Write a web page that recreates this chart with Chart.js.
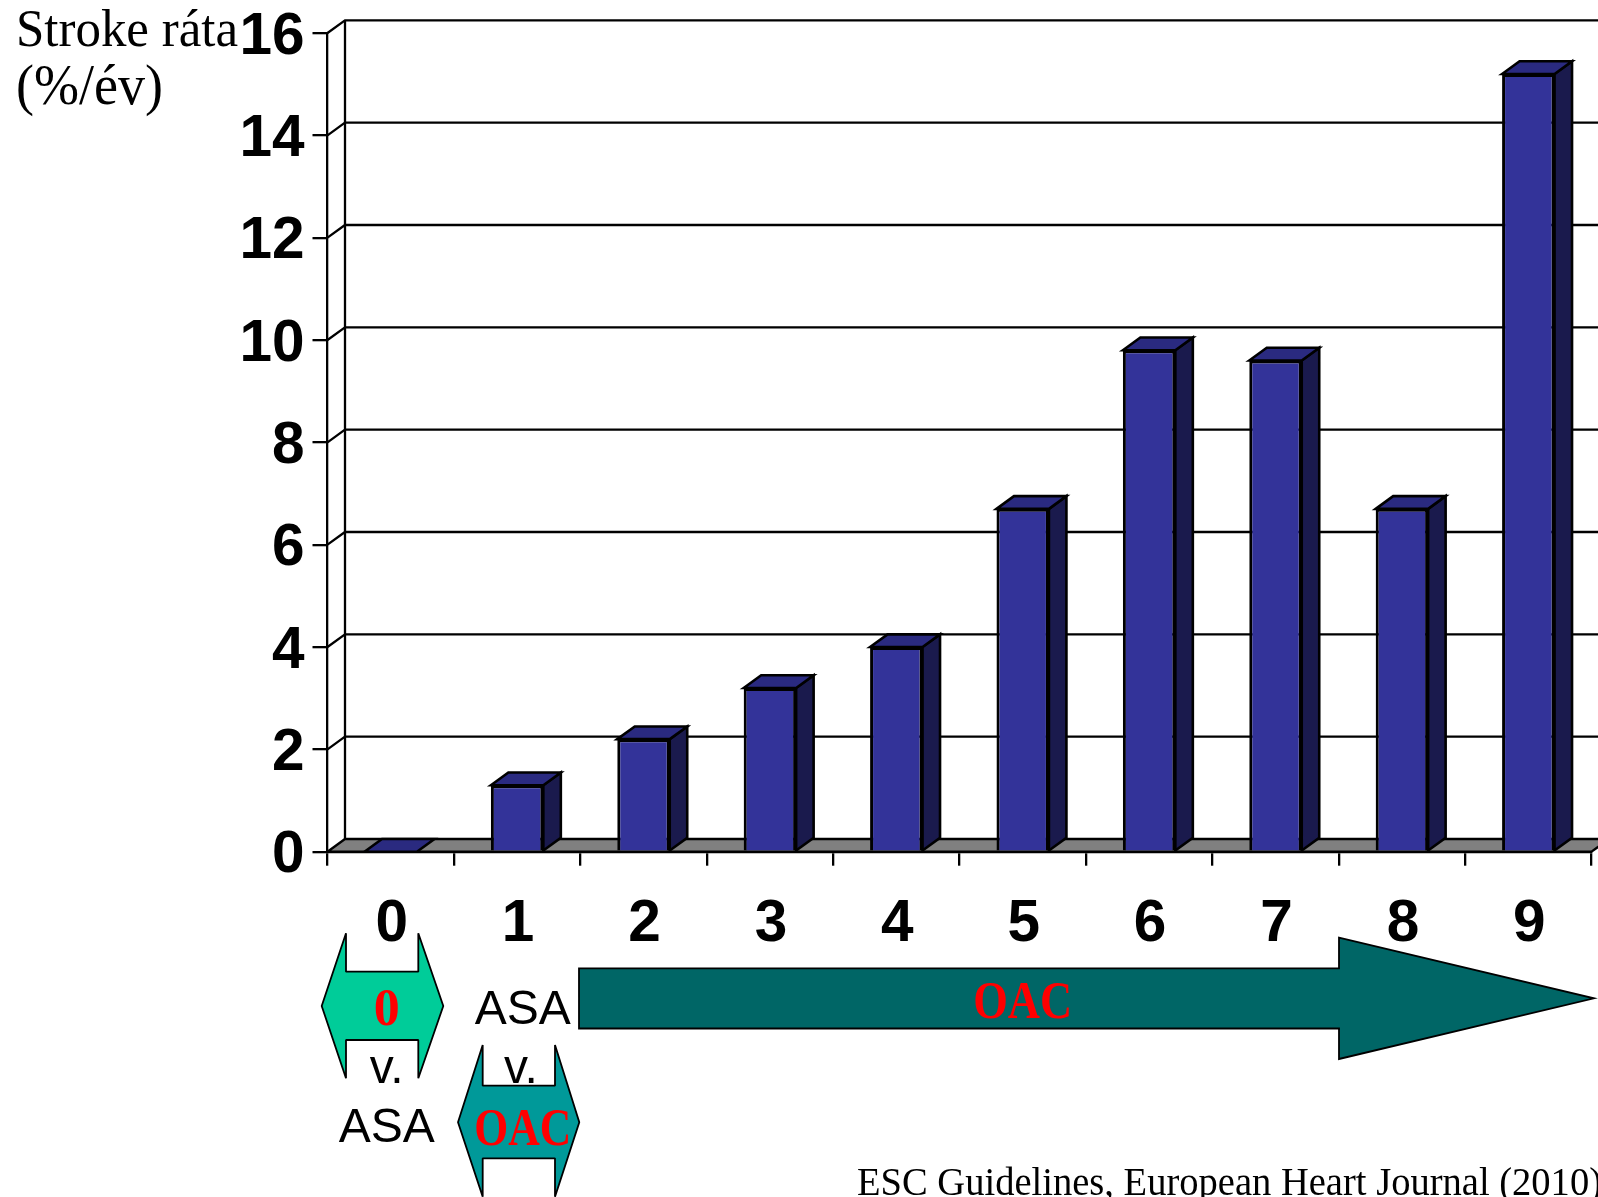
<!DOCTYPE html>
<html lang="hu">
<head>
<meta charset="utf-8">
<title>Stroke ráta</title>
<style>
  html, body { margin: 0; padding: 0; background: #fff; }
  canvas { display: block; }
</style>
<script src="https://cdn.jsdelivr.net/npm/chart.js@4"></script>
</head>
<body>
<canvas id="chart" width="1598" height="1197"></canvas>
<script>
// CHA2DS2-VASc score against annual stroke rate
const categories = ['0', '1', '2', '3', '4', '5', '6', '7', '8', '9'];
const strokeRates = [0, 1.3, 2.2, 3.2, 4.0, 6.7, 9.8, 9.6, 6.7, 15.2];
const yTickLabels = [0, 2, 4, 6, 8, 10, 12, 14, 16];

const AREA = { left: 327.5, top: 33, right: 1591.5, bottom: 851.7 };
const DEPTH = { x: 17.5, y: -12.7 };
const INK = '#000000';
const SANS = '"Liberation Sans", Arial, sans-serif';
const SERIF = '"Liberation Serif", "Times New Roman", serif';

function polygon(ctx, pts, fill, stroke, lineWidth, join) {
  ctx.beginPath();
  pts.forEach(([x, y], i) => (i ? ctx.lineTo(x, y) : ctx.moveTo(x, y)));
  ctx.closePath();
  if (fill) { ctx.fillStyle = fill; ctx.fill(); }
  if (stroke) { ctx.strokeStyle = stroke; ctx.lineWidth = lineWidth; ctx.lineJoin = join || 'miter'; ctx.stroke(); }
}

// Arrow pointing both left and right, its notches open at top and bottom
function doubleArrow(ctx, s, fill) {
  polygon(ctx, [
    [s.left, s.midY], [s.notchL, s.top], [s.notchL, s.neckTop], [s.notchR, s.neckTop],
    [s.notchR, s.top], [s.right, s.midY], [s.notchR, s.bottom], [s.notchR, s.neckBottom],
    [s.notchL, s.neckBottom], [s.notchL, s.bottom]
  ], fill, INK, 1.8, 'bevel');
}

function label(ctx, text, x, y, font, color, align, maxWidth) {
  ctx.font = font;
  ctx.fillStyle = color;
  ctx.textAlign = align || 'center';
  ctx.textBaseline = 'alphabetic';
  if (maxWidth) ctx.fillText(text, x, y, maxWidth); else ctx.fillText(text, x, y);
}

// Back wall lines, side wall connectors and grey floor behind the bars
const chartBox = {
  id: 'chartBox',
  beforeDatasetsDraw(chart) {
    const { ctx, chartArea: a, scales: { y } } = chart;
    ctx.save();
    const farRight = a.right + DEPTH.x;
    ctx.strokeStyle = INK;
    ctx.lineWidth = 2.3;
    yTickLabels.forEach(v => {
      if (v === 0) return;
      const py = y.getPixelForValue(v);
      ctx.beginPath();
      ctx.moveTo(a.left, py);
      ctx.lineTo(a.left + DEPTH.x, py + DEPTH.y);
      ctx.lineTo(farRight, py + DEPTH.y);
      ctx.stroke();
    });
    ctx.beginPath();
    ctx.moveTo(a.left + DEPTH.x, a.top + DEPTH.y);
    ctx.lineTo(a.left + DEPTH.x, a.bottom + DEPTH.y);
    ctx.stroke();
    polygon(ctx, [
      [a.left, a.bottom], [a.left + DEPTH.x, a.bottom + DEPTH.y],
      [farRight, a.bottom + DEPTH.y], [a.right, a.bottom]
    ], '#808080', INK, 2.3);
    ctx.restore();
  },
  // Side and top faces that give each bar its depth
  afterDatasetsDraw(chart) {
    const { ctx } = chart;
    ctx.save();
    chart.getDatasetMeta(0).data.forEach(bar => {
      const l = bar.x - bar.width / 2, r = bar.x + bar.width / 2;
      const top = bar.y, base = bar.base;
      if (base - top > 0.5) {
        polygon(ctx, [
          [r, top], [r + DEPTH.x, top + DEPTH.y], [r + DEPTH.x, base + DEPTH.y], [r, base]
        ], '#1a1a4d', INK, 2.6);
      }
      polygon(ctx, [
        [l, top], [l + DEPTH.x, top + DEPTH.y], [r + DEPTH.x, top + DEPTH.y], [r, top]
      ], '#2a2a80', INK, 2.6);
    });
    ctx.restore();
  }
};

// Axis caption, treatment arrows and source line
const annotations = {
  id: 'annotations',
  afterDraw(chart) {
    const { ctx } = chart;
    ctx.save();
    label(ctx, 'Stroke ráta', 16, 46, `52px ${SERIF}`, INK, 'left', 222);
    label(ctx, '(%/év)', 16, 104, `56px ${SERIF}`, INK, 'left', 147);

    doubleArrow(ctx, {
      left: 321.7, right: 443.3, midY: 1006, notchL: 346, notchR: 418.3,
      top: 933.3, neckTop: 971.7, neckBottom: 1040, bottom: 1078.3
    }, '#00cc99');
    doubleArrow(ctx, {
      left: 458, right: 579.3, midY: 1122.3, notchL: 482.7, notchR: 555,
      top: 1045, neckTop: 1085.7, neckBottom: 1158.3, bottom: 1196.7
    }, '#009999');
    polygon(ctx, [
      [579, 968.3], [1339, 968.3], [1339, 937.7], [1594, 998.3],
      [1339, 1059], [1339, 1028.5], [579, 1028.5]
    ], '#006666', INK, 1.8);

    label(ctx, '0', 386.7, 1025, `bold 52px ${SERIF}`, '#ff0000');
    label(ctx, 'ASA', 522.7, 1024, `48px ${SANS}`, INK);
    label(ctx, 'v.', 386.7, 1083, `48px ${SANS}`, INK);
    label(ctx, 'v.', 521, 1083, `48px ${SANS}`, INK);
    label(ctx, 'ASA', 386.7, 1141.7, `48px ${SANS}`, INK);
    label(ctx, 'OAC', 522.7, 1145, `bold 52px ${SERIF}`, '#ff0000', 'center', 97);
    label(ctx, 'OAC', 1022.7, 1018, `bold 52px ${SERIF}`, '#ff0000', 'center', 99);
    label(ctx, 'ESC Guidelines, European Heart Journal (2010)', 857, 1195, `39px ${SERIF}`, INK, 'left', 745);
    ctx.restore();
  }
};

new Chart(document.getElementById('chart'), {
  type: 'bar',
  data: {
    labels: categories,
    datasets: [{
      data: strokeRates,
      backgroundColor: '#333399',
      borderColor: INK,
      borderWidth: 3,
      categoryPercentage: 1,
      barPercentage: 0.415
    }]
  },
  plugins: [chartBox, annotations],
  options: {
    responsive: false,
    animation: false,
    events: [],
    layout: { padding: { left: 0, top: AREA.top, right: 1598 - AREA.right, bottom: 0 } },
    plugins: { legend: { display: false }, title: { display: false }, tooltip: { enabled: false } },
    scales: {
      x: {
        type: 'category',
        offset: true,
        grid: { offset: true, drawOnChartArea: false, color: INK, lineWidth: 2.3, tickLength: 14 },
        border: { color: INK, width: 2.3 },
        ticks: {
          color: INK, padding: 30, maxRotation: 0, autoSkip: false, labelOffset: 1,
          font: { family: SANS, weight: 'bold', size: 58.5, lineHeight: 1 }
        },
        afterFit(axis) {
          axis.height = 1197 - AREA.bottom;
          axis.paddingLeft = axis.paddingRight = 0;
        }
      },
      y: {
        min: 0,
        max: 16,
        afterBuildTicks(axis) { axis.ticks = yTickLabels.map(value => ({ value })); },
        grid: { drawOnChartArea: false, color: INK, lineWidth: 2.3, tickLength: 15 },
        border: { color: INK, width: 2.3 },
        ticks: {
          color: INK, padding: 8, labelOffset: 4.5,
          font: { family: SANS, weight: 'bold', size: 58.5, lineHeight: 1 }
        },
        afterFit(axis) {
          axis.width = AREA.left;
          axis.paddingTop = axis.paddingBottom = 0;
        }
      }
    }
  }
});
</script>
</body>
</html>
